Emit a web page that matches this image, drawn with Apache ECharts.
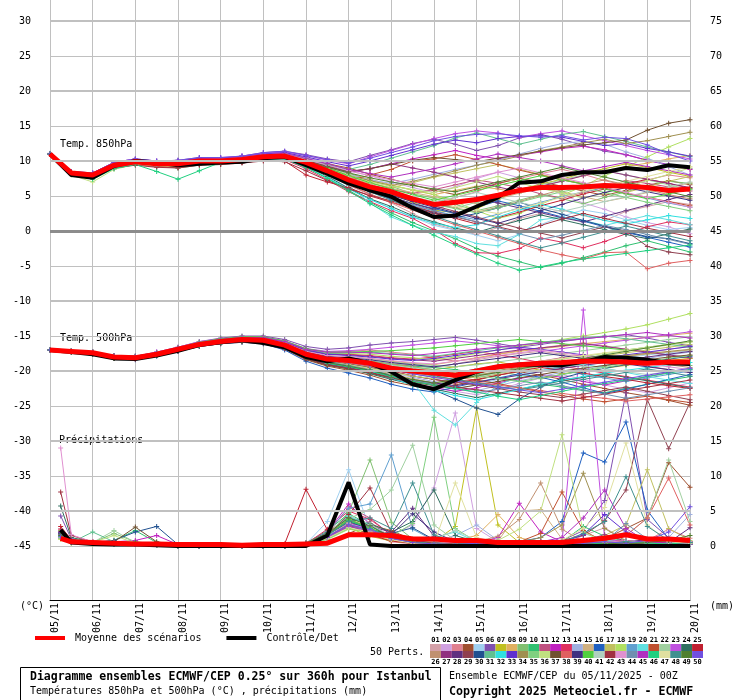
<!DOCTYPE html>
<html>
<head>
<meta charset="utf-8">
<script src="https://cdn.jsdelivr.net/npm/echarts@6/dist/echarts.min.js"></script>
<style>
  html, body { margin: 0; padding: 0; background: #fff; }
  #chart { width: 740px; height: 700px; }
</style>
</head>
<body>
<div id="chart"></div>
<script>
// pas de temps (h) depuis le 05/11 00Z
const hours = [0,12,24,36,48,60,72,84,96,108,120,132,144,156,168,180,192,204,216,228,240,252,264,276,288,300,312,324,336,348,360];
const precipHours = [6,12,24,36,48,60,72,84,96,108,120,132,144,156,168,180,192,204,216,228,240,252,264,276,288,300,312,324,336,348,360];
const dayLabels = ['05/11','06/11','07/11','08/11','09/11','10/11','11/11','12/11','13/11','14/11','15/11','16/11','17/11','18/11','19/11','20/11'];

const t850Mean = [11.0,8.3,8.0,9.4,9.9,9.6,9.6,10.0,10.0,10.2,10.6,10.7,9.8,8.6,7.3,6.3,5.6,4.6,3.8,4.1,4.5,5.1,5.8,6.2,6.2,6.3,6.5,6.4,6.2,5.8,6.0];
const t850Control = [11.0,8.0,7.6,9.3,10.0,9.8,9.4,9.6,9.8,9.9,10.4,10.6,9.4,8.2,6.8,5.8,4.9,3.3,2.0,2.2,3.5,4.8,6.9,7.1,8.0,8.4,8.4,9.0,8.7,9.4,9.1];
const t500Mean = [-17.0,-17.2,-17.4,-18.0,-18.1,-17.6,-16.9,-16.2,-15.8,-15.5,-15.6,-16.3,-17.6,-18.3,-18.5,-18.9,-19.6,-20.0,-20.3,-20.6,-20.0,-19.4,-19.1,-18.9,-18.8,-18.6,-18.6,-18.7,-18.9,-18.7,-18.7];
const t500Control = [-17.0,-17.3,-17.6,-18.2,-18.3,-17.8,-17.1,-16.3,-15.9,-15.6,-16.0,-16.6,-18.0,-18.6,-18.2,-18.9,-20.1,-21.9,-22.6,-21.3,-20.1,-19.4,-19.1,-19.1,-19.2,-18.7,-18.0,-18.1,-18.4,-18.9,-19.0];
const precipMean = [1.1,0.6,0.5,0.4,0.3,0.3,0.2,0.2,0.2,0.1,0.2,0.2,0.3,0.4,1.6,1.6,1.5,1.0,1.0,0.8,0.8,0.5,0.5,0.5,0.5,0.8,1.1,1.6,1.0,1.0,0.8];
const precipControl = [2.3,0.5,0.3,0.2,0.2,0.1,0,0,0,0,0,0,0,1.5,9.1,0.2,0,0,0,0,0,0,0,0,0,0,0,0,0,0,0];

const memberColors = [
  '#d4a0a8','#d0a0e0','#e08090','#a05030','#a0d0f0','#8050b0','#c0c020','#e0b060','#80c070','#30c070',
  '#c05080','#c020c0','#e03060','#a0b0e0','#d0b080','#2060c0','#c0c060','#b0e060','#60a0d0','#60e0e0',
  '#c05030','#a0d0a0','#c050e0','#307060','#c02030',
  '#c09070','#903080','#603080','#904050','#205090','#60c090','#30e0e0','#6030d0','#a09050','#80d080',
  '#c0e080','#705030','#e06060','#403080','#50d040','#b0d0c0','#a03040','#e090d0','#7090b0','#b030c0',
  '#20d080','#e0e0a0','#409090','#508030','#7050e0'
];

const t850Members = [
  [11.0,8.2,7.8,9.2,9.7,9.4,9.2,9.6,9.8,10.0,10.4,10.3, 9.2,8.0,6.5,5.2,4.0,2.5,1.0,0.2,-0.5,0.5,1.8,2.5,3.0,2.2,1.5,2.8,3.5,4.2,3.8],
  [11.1,8.2,8.1,9.6,10.1,9.8,9.9,10.2,10.3,10.6,11.0,11.2, 10.5,9.8,8.6,7.9,7.0,6.2,5.5,6.3,7.5,8.4,7.6,6.5,5.2,4.0,3.1,2.0,1.2,0.6,-0.4],
  [11.0,8.4,7.9,9.5,9.8,9.5,9.7,10.1,10.0,10.1,10.5,10.4, 9.4,8.2,6.9,5.8,5.1,4.4,3.9,4.8,5.6,6.8,7.5,8.2,8.8,8.1,7.2,6.5,7.3,8.0,7.6],
  [11.0,8.3,8.2,9.3,9.9,9.7,9.5,10.0,10.1,10.3,10.8,10.9, 10.2,9.6,9.0,8.1,7.4,6.6,5.8,5.2,6.0,6.8,7.5,7.0,6.4,5.7,5.1,5.8,6.5,7.2,6.6],
  [11.0,8.1,7.7,9.0,9.6,9.5,9.4,9.8,9.9,10.1,10.5,10.6, 9.5,8.0,6.1,4.6,3.2,2.0,0.8,0.1,-0.6,-1.4,-0.5,0.9,2.1,3.0,2.5,1.6,0.8,0.2,0.5],
  [11.0,8.4,8.3,9.8,10.3,10.0,10.1,10.5,10.4,10.7,11.2,11.4, 10.9,10.3,9.9,10.8,11.6,12.5,13.1,12.4,11.5,12.2,13.3,13.8,13.1,12.2,11.4,10.9,10.1,9.5,8.9],
  [11.0,8.2,8.0,9.4,9.8,9.5,9.3,9.7,9.9,10.0,10.3,10.5, 9.6,8.4,7.0,6.1,5.3,4.1,3.0,2.6,3.2,4.5,5.9,6.7,7.4,8.3,8.9,9.6,9.1,8.4,7.8],
  [11.0,8.3,8.1,9.5,10.0,9.7,9.8,10.2,10.2,10.4,10.7,10.8, 10.0,9.1,8.2,7.4,6.6,5.8,5.2,5.8,6.4,6.0,5.5,6.3,7.2,7.9,8.6,9.2,9.7,10.3,10.8],
  [11.0,8.5,8.2,9.7,10.2,9.9,9.9,10.3,10.3,10.5,10.9,11.1, 10.4,9.5,8.3,7.2,6.4,5.3,4.7,3.8,2.9,3.6,4.4,5.2,4.6,3.9,4.8,5.6,6.4,7.1,6.8],
  [11.0,8.2,7.9,9.3,9.7,9.3,9.0,9.4,9.5,9.8,10.2,10.2, 9.1,7.6,5.8,4.1,2.6,1.2,0.0,-1.1,-2.5,-3.6,-4.4,-5.2,-4.6,-3.8,-3.0,-2.1,-1.4,-2.2,-3.0],
  [11.0,8.4,8.1,9.5,9.9,9.6,9.7,10.0,10.1,10.3,10.7,10.6, 9.7,8.5,7.4,6.6,5.9,5.4,5.9,6.6,7.3,6.8,6.2,5.3,4.7,5.5,6.3,7.2,6.8,6.3,5.7],
  [11.0,8.3,8.0,9.4,9.9,9.6,9.6,10.1,10.2,10.4,10.8,10.9, 10.1,9.3,8.5,8.9,9.6,10.3,10.9,11.5,10.8,10.3,10.8,11.3,11.8,12.1,11.6,10.9,10.1,9.4,8.8],
  [11.0,8.1,7.8,9.1,9.6,9.3,9.2,9.6,9.7,9.9,10.3,10.2, 8.9,7.3,5.6,4.2,2.9,1.8,0.2,-1.8,-3.1,-3.2,-2.5,-1.0,-1.6,-2.4,-1.5,-0.4,0.6,1.3,0.9],
  [11.0,8.3,8.1,9.5,10.0,9.7,9.7,10.1,10.1,10.3,10.7,10.9, 10.1,9.2,8.1,7.3,6.8,7.4,8.1,8.8,9.4,10.1,11.0,11.8,12.5,12.8,12.4,11.3,10.4,9.2,8.0],
  [11.0,8.4,8.2,9.6,10.1,9.8,9.8,10.1,10.2,10.4,10.8,10.9, 10.0,8.9,7.8,6.9,6.1,5.5,4.9,4.4,3.9,4.6,5.4,6.1,5.6,4.9,4.2,4.8,5.5,6.2,6.9],
  [11.0,8.2,7.9,9.3,9.8,9.5,9.5,9.9,9.9,10.1,10.5,10.5, 9.5,8.3,7.0,5.9,4.8,3.9,3.2,2.5,3.4,4.3,3.6,2.8,2.0,1.4,0.6,-0.2,-0.9,-1.6,-2.3],
  [11.0,8.3,8.1,9.5,9.9,9.7,9.6,10.0,10.0,10.2,10.6,10.8, 9.9,8.8,7.6,6.8,6.2,6.9,7.7,8.3,8.9,9.5,8.8,8.1,7.4,6.8,6.2,5.5,6.3,7.1,7.8],
  [11.0,8.4,8.0,9.4,10.0,9.6,9.7,10.1,10.1,10.3,10.7,10.8, 10.0,9.0,8.0,7.1,6.5,5.9,5.2,4.2,2.9,1.8,2.5,3.8,5.1,6.4,7.9,9.1,10.6,12.0,13.2],
  [11.0,8.2,7.8,9.2,9.7,9.4,9.4,9.8,9.9,10.1,10.4,10.4, 9.4,8.1,6.8,5.6,4.5,3.6,2.9,2.2,1.6,2.4,3.3,4.1,4.9,5.6,6.2,5.4,4.7,4.0,3.4],
  [11.0,8.3,8.1,9.6,10.0,9.7,9.6,10.0,10.1,10.3,10.6,10.7, 9.6,8.2,6.5,4.0,2.0,0.8,-0.2,-0.8,-1.8,-2.1,-0.5,1.6,2.0,1.5,0.8,1.5,2.2,1.6,0.9],
  [11.0,8.4,8.1,9.5,10.0,9.6,9.6,10.0,10.0,10.2,10.6,10.6, 9.6,8.3,7.2,8.0,8.8,10.0,10.3,10.9,10.2,9.5,8.7,8.0,7.3,6.7,6.1,5.4,4.8,4.2,3.6],
  [11.0,8.3,8.0,9.4,9.9,9.6,9.6,10.0,10.0,10.2,10.6,10.7, 9.8,8.7,7.5,6.4,5.6,4.8,4.0,3.3,4.1,5.0,5.8,6.6,7.3,8.0,8.7,8.0,7.3,6.6,5.9],
  [11.0,8.5,8.3,9.8,10.3,10.0,10.0,10.4,10.5,10.7,11.1,11.3, 10.8,10.1,9.6,10.6,11.5,12.4,13.2,13.9,14.3,14.0,13.4,13.9,14.3,13.6,12.9,12.2,11.5,10.9,10.3],
  [11.0,8.2,8.0,9.4,9.8,9.5,9.5,9.9,9.9,10.1,10.5,10.5, 9.3,7.8,6.1,4.6,3.5,2.2,1.3,0.4,-0.2,0.7,1.5,2.3,1.6,0.9,0.2,-0.5,-1.1,-0.4,0.3],
  [11.0,8.1,7.7,9.0,9.5,9.2,9.1,9.5,9.6,9.8,10.1,10.0, 8.0,7.0,6.2,5.0,4.1,3.3,2.5,1.8,1.0,1.9,2.7,3.6,4.4,5.3,6.0,6.7,7.4,6.8,6.1],
  [11.0,8.3,8.1,9.5,10.0,9.7,9.7,10.1,10.1,10.3,10.7,10.8, 9.9,8.8,7.7,6.6,5.4,4.6,3.9,3.3,2.7,3.4,4.2,5.1,5.9,6.7,7.3,6.6,5.9,5.2,4.6],
  [11.0,8.4,8.2,9.6,10.1,9.8,9.8,10.2,10.2,10.4,10.8,10.9, 10.1,9.2,8.4,8.9,9.6,9.0,8.4,7.7,7.0,6.3,5.6,6.4,7.1,7.9,8.6,8.0,7.4,6.8,6.2],
  [11.0,8.2,8.0,9.4,9.9,9.6,9.5,9.9,10.0,10.2,10.5,10.6, 9.6,8.4,7.2,6.0,4.9,3.9,3.1,3.9,4.7,4.0,3.3,2.6,1.9,1.3,2.1,2.9,3.7,4.5,5.2],
  [11.0,8.3,8.1,9.5,9.9,9.6,9.6,10.0,10.1,10.3,10.6,10.7, 9.7,8.4,7.1,6.0,5.2,4.4,3.6,2.8,2.0,1.2,0.4,-0.3,-1.0,-0.2,0.6,0.0,-2.2,-3.0,-3.4],
  [11.0,8.2,7.9,9.3,9.8,9.5,9.4,9.8,9.9,10.1,10.5,10.5, 9.5,8.2,6.9,5.7,4.6,3.5,2.6,1.9,2.5,3.3,4.1,3.2,2.4,1.5,0.7,-0.1,-0.8,-1.1,-1.8],
  [11.0,8.4,8.2,9.6,10.1,9.8,9.8,10.2,10.3,10.5,10.9,11.0, 10.3,9.5,8.8,9.5,10.4,11.3,12.2,13.3,14.0,13.2,12.4,13.1,13.8,14.2,13.5,12.8,12.0,11.3,10.6],
  [11.0,8.3,8.0,9.3,9.8,9.5,9.4,9.8,9.8,10.0,10.3,10.3, 9.1,7.6,6.0,4.5,3.2,2.0,1.1,0.5,0.9,2.0,3.0,3.8,3.1,2.3,1.5,1.0,1.6,2.2,1.8],
  [11.0,8.4,8.2,9.7,10.2,9.9,10.0,10.4,10.4,10.6,11.0,11.2, 10.6,9.9,9.3,10.0,10.8,11.6,12.4,13.0,12.6,13.2,13.5,13.6,13.4,12.8,12.2,12.5,11.8,11.3,10.7],
  [11.0,8.3,8.1,9.5,10.0,9.7,9.7,10.1,10.1,10.3,10.7,10.8, 9.9,8.9,7.9,7.2,6.5,7.1,7.8,8.6,9.4,10.0,10.7,11.5,12.0,12.6,13.1,12.5,12.9,13.5,14.1],
  [11.0,8.2,7.9,9.3,9.8,9.5,9.5,9.9,10.0,10.2,10.5,10.6, 9.6,8.5,7.3,6.2,5.3,4.5,3.8,3.2,2.6,3.3,4.1,4.9,5.6,6.2,5.5,4.8,4.1,3.5,2.9],
  [11.0,8.0,7.0,8.8,9.5,9.3,9.2,9.6,9.8,10.0,10.4,10.5, 9.9,8.9,7.9,7.0,6.4,5.9,5.5,6.2,7.0,7.8,6.9,6.1,5.4,4.7,5.4,6.3,7.2,8.1,9.0],
  [11.0,8.4,8.1,9.5,10.0,9.7,9.7,10.1,10.2,10.4,10.8,10.9, 10.1,9.3,8.5,8.9,9.5,10.1,10.5,10.2,9.9,10.4,10.9,11.4,11.9,12.3,12.6,13.0,14.4,15.4,15.9],
  [11.0,8.2,7.9,9.3,9.8,9.5,9.4,9.8,9.9,10.0,10.4,10.4, 9.3,8.0,6.6,5.3,4.1,3.0,1.9,0.9,0.0,-0.9,-1.8,-2.7,-3.4,-4.0,-3.1,-3.0,-5.4,-4.6,-4.2],
  [11.0,8.3,8.0,9.4,9.9,9.6,9.6,10.0,10.0,10.2,10.6,10.6, 9.6,8.4,7.1,6.0,5.1,4.2,3.4,2.6,1.8,1.1,2.0,2.9,3.8,4.7,5.5,6.2,5.6,5.0,4.4],
  [11.0,8.4,8.1,9.5,10.0,9.7,9.7,10.1,10.1,10.3,10.7,10.8, 10.0,9.0,7.9,6.9,6.0,5.2,4.4,5.1,5.8,6.5,7.2,7.9,7.3,6.7,6.0,5.3,4.6,5.3,6.0],
  [11.0,8.3,8.0,9.4,9.9,9.6,9.6,10.0,10.0,10.2,10.6,10.7, 9.8,8.7,7.6,6.6,5.7,4.9,4.2,4.8,5.5,4.8,4.1,3.4,2.8,3.5,4.2,4.9,5.6,6.3,7.0],
  [11.0,8.1,7.7,9.0,9.4,9.1,9.0,9.4,9.5,9.7,10.0,9.9, 8.6,7.2,6.0,5.1,4.3,3.5,2.7,2.0,1.3,0.6,-0.1,0.8,1.7,2.5,1.8,1.1,0.4,-0.2,-0.8],
  [11.0,8.4,8.2,9.6,10.1,9.8,9.8,10.2,10.3,10.5,10.9,11.0, 10.2,9.4,8.6,7.9,7.3,6.8,6.3,7.0,7.7,8.4,9.0,8.3,7.6,6.9,6.2,5.5,4.8,4.1,3.4],
  [11.0,8.2,8.0,9.4,9.8,9.5,9.5,9.9,10.0,10.2,10.5,10.5, 9.5,8.2,6.9,5.8,4.8,3.8,2.9,2.1,1.3,0.5,-0.4,-1.2,-0.6,0.1,0.8,0.2,-0.5,-1.2,-1.9],
  [11.0,8.4,8.2,9.7,10.1,9.8,9.9,10.3,10.3,10.5,10.9,11.1, 10.4,9.6,8.8,8.2,7.7,8.3,8.9,9.6,10.3,11.0,10.5,10.0,9.3,8.6,9.2,9.8,9.2,8.6,8.0],
  [11.0,8.2,7.4,8.9,9.5,8.5,7.4,8.6,9.8,10.0,10.3,10.3, 9.1,7.5,5.7,3.9,2.3,0.8,-0.6,-2.0,-3.3,-4.6,-5.6,-5.1,-4.5,-4.0,-3.6,-3.2,-2.8,-2.4,-2.0],
  [11.0,8.3,8.1,9.5,9.9,9.6,9.6,10.0,10.1,10.3,10.6,10.7, 9.8,8.6,7.4,6.4,5.6,4.8,4.1,3.5,3.0,2.5,3.2,4.0,4.8,5.6,6.4,7.1,7.8,8.5,9.2],
  [11.0,8.3,8.0,9.4,9.9,9.6,9.6,10.0,10.0,10.2,10.5,10.6, 9.6,8.3,6.9,5.6,4.4,3.2,2.1,1.1,0.2,-0.7,-1.6,-2.4,-1.7,-0.9,-0.1,0.7,0.0,-0.7,-1.4],
  [11.0,8.4,8.1,9.5,10.0,9.7,9.7,10.1,10.1,10.3,10.7,10.8, 10.0,9.1,8.3,7.6,7.0,6.5,6.0,5.6,6.3,7.0,7.7,8.4,9.1,8.4,7.7,7.0,6.3,5.6,4.9],
  [11.0,8.5,8.3,9.8,10.3,10.0,10.1,10.5,10.5,10.7,11.2,11.4, 10.8,10.2,9.7,10.4,11.2,12.0,12.9,13.5,13.8,13.9,13.6,13.4,13.6,13.0,13.4,13.2,12.3,11.0,10.0]
];

const t500Members = [
  [-17.0,-17.1,-17.3,-17.8,-18.0,-17.5,-16.8,-16.0,-15.6,-15.3,-15.4,-16.0, -17.2,-17.9,-18.0,-18.3,-18.8,-19.2,-19.5,-19.0,-18.4,-17.9,-17.5,-17.2,-17.6,-18.1,-18.5,-18.0,-17.4,-16.9,-16.5],
  [-17.0,-17.3,-17.5,-18.1,-18.3,-17.8,-17.1,-16.4,-16.0,-15.8,-16.0,-16.8, -18.2,-19.0,-19.4,-20.1,-21.0,-21.8,-22.3,-22.9,-23.4,-22.6,-21.8,-21.0,-20.5,-21.2,-22.0,-22.6,-23.1,-22.4,-21.7],
  [-17.0,-17.2,-17.4,-17.9,-18.0,-17.4,-16.7,-16.0,-15.5,-15.2,-15.2,-15.8, -16.9,-17.4,-17.2,-17.0,-17.3,-17.6,-18.1,-18.6,-18.2,-17.6,-17.1,-16.7,-16.3,-16.0,-16.4,-16.9,-17.3,-17.8,-18.2],
  [-17.0,-17.3,-17.6,-18.2,-18.3,-17.8,-17.2,-16.5,-16.1,-15.9,-16.1,-16.9, -18.4,-19.3,-19.9,-20.6,-21.5,-22.1,-22.5,-22.0,-21.3,-20.6,-20.1,-20.6,-21.2,-21.9,-22.5,-23.1,-23.6,-24.2,-24.9],
  [-17.0,-17.1,-17.3,-17.9,-18.0,-17.6,-16.9,-16.2,-15.8,-15.6,-15.7,-16.4, -17.7,-18.5,-18.9,-19.6,-20.5,-21.4,-22.0,-22.6,-22.0,-21.2,-20.5,-19.9,-19.3,-18.9,-18.5,-18.1,-17.7,-17.4,-17.1],
  [-17.0,-17.2,-17.3,-17.8,-17.9,-17.3,-16.6,-15.8,-15.3,-15.0,-15.0,-15.5, -16.5,-16.9,-16.7,-16.3,-16.0,-15.8,-15.5,-15.2,-15.6,-16.1,-16.6,-16.2,-15.8,-15.4,-15.1,-14.8,-15.3,-15.9,-16.4],
  [-17.0,-17.2,-17.5,-18.1,-18.2,-17.7,-17.0,-16.3,-15.9,-15.7,-15.8,-16.6, -17.9,-18.7,-19.0,-19.4,-19.9,-20.1,-19.8,-19.4,-19.0,-18.7,-19.3,-19.9,-20.4,-20.0,-19.6,-19.2,-18.8,-18.5,-18.2],
  [-17.0,-17.2,-17.4,-18.0,-18.1,-17.6,-16.9,-16.2,-15.7,-15.4,-15.5,-16.2, -17.4,-17.9,-18.0,-18.2,-18.6,-18.9,-19.1,-18.6,-18.1,-17.6,-17.2,-16.8,-16.5,-16.1,-15.8,-15.5,-15.2,-14.9,-14.6],
  [-17.0,-17.3,-17.5,-18.1,-18.2,-17.7,-17.0,-16.3,-15.9,-15.6,-15.7,-16.5, -17.9,-18.8,-19.3,-19.9,-20.8,-21.4,-21.9,-21.3,-20.6,-20.1,-20.6,-21.1,-20.5,-19.9,-19.3,-18.8,-18.3,-18.7,-19.2],
  [-17.0,-17.1,-17.3,-17.9,-18.0,-17.5,-16.8,-16.1,-15.7,-15.4,-15.5,-16.2, -17.5,-18.1,-18.3,-18.6,-19.0,-19.3,-19.5,-19.8,-20.3,-20.9,-21.4,-21.9,-22.3,-22.8,-23.1,-22.5,-21.9,-21.3,-20.8],
  [-17.0,-17.2,-17.4,-18.0,-18.1,-17.6,-16.9,-16.2,-15.8,-15.5,-15.6,-16.3, -17.6,-18.2,-18.4,-18.7,-19.2,-19.7,-20.1,-20.5,-20.1,-19.6,-19.1,-18.6,-18.1,-17.7,-18.2,-18.8,-19.3,-19.8,-20.2],
  [-17.0,-17.3,-17.5,-18.1,-18.2,-17.7,-17.0,-16.3,-15.9,-15.7,-15.9,-16.7, -18.1,-18.9,-19.5,-20.2,-21.1,-21.8,-22.4,-22.9,-22.4,-21.7,-21.1,-20.5,-20.9,-21.5,-22.0,-21.4,-20.8,-20.2,-19.7],
  [-17.0,-17.1,-17.3,-17.8,-17.9,-17.4,-16.7,-16.0,-15.5,-15.2,-15.3,-15.9, -17.0,-17.5,-17.6,-17.8,-18.1,-18.3,-18.0,-17.6,-17.2,-17.7,-18.2,-18.8,-19.3,-19.8,-20.3,-20.8,-21.3,-21.8,-22.3],
  [-17.0,-17.2,-17.4,-17.9,-18.1,-17.6,-16.9,-16.2,-15.8,-15.5,-15.6,-16.3, -17.7,-18.5,-18.9,-19.4,-20.2,-20.9,-21.5,-22.2,-22.8,-22.1,-21.4,-20.8,-20.2,-19.7,-19.2,-18.7,-18.2,-17.7,-17.3],
  [-17.0,-17.2,-17.5,-18.0,-18.2,-17.7,-17.0,-16.3,-15.9,-15.6,-15.7,-16.4, -17.8,-18.6,-19.1,-19.7,-20.4,-21.1,-21.7,-21.2,-20.7,-20.2,-19.8,-19.4,-19.0,-18.6,-18.2,-17.9,-17.6,-17.3,-17.0],
  [-17.0,-17.3,-17.6,-18.2,-18.4,-17.9,-17.2,-16.5,-16.1,-15.9,-16.1,-17.0, -18.6,-19.6,-20.3,-21.0,-21.9,-22.6,-23.0,-22.3,-21.6,-21.0,-20.4,-20.9,-21.6,-22.4,-23.2,-22.6,-21.9,-21.2,-20.5],
  [-17.0,-17.2,-17.4,-18.0,-18.1,-17.6,-16.9,-16.2,-15.7,-15.5,-15.5,-16.2, -17.5,-18.2,-18.5,-18.8,-19.3,-19.8,-20.2,-20.6,-21.0,-20.4,-19.8,-19.3,-18.8,-18.3,-17.8,-17.4,-17.0,-16.6,-16.2],
  [-17.0,-17.1,-17.3,-17.8,-17.9,-17.4,-16.7,-15.9,-15.5,-15.2,-15.2,-15.8, -16.9,-17.4,-17.5,-17.6,-17.9,-18.1,-18.4,-18.0,-17.5,-17.0,-16.5,-16.0,-15.5,-15.0,-14.5,-14.0,-13.4,-12.6,-11.8],
  [-17.0,-17.2,-17.4,-18.0,-18.1,-17.6,-16.9,-16.2,-15.8,-15.5,-15.6,-16.3, -17.6,-18.3,-18.6,-19.1,-19.8,-20.4,-20.9,-20.3,-19.7,-19.2,-18.8,-19.3,-19.9,-20.5,-21.0,-21.5,-21.0,-20.5,-20.0],
  [-17.0,-17.2,-17.5,-18.1,-18.2,-17.7,-17.0,-16.3,-15.9,-15.6,-15.8,-16.6, -18.0,-18.9,-19.5,-20.4,-21.0,-21.5,-25.6,-27.7,-24.5,-22.0,-20.8,-20.0,-19.4,-19.0,-19.6,-20.2,-20.8,-21.3,-21.8],
  [-17.0,-17.1,-17.3,-17.9,-18.0,-17.5,-16.8,-16.1,-15.7,-15.4,-15.5,-16.2, -17.5,-18.2,-18.5,-19.0,-19.6,-20.1,-20.5,-20.9,-21.3,-21.8,-22.4,-23.0,-23.5,-24.0,-24.4,-24.0,-23.6,-24.1,-24.5],
  [-17.0,-17.2,-17.4,-18.0,-18.1,-17.6,-16.9,-16.1,-15.7,-15.4,-15.4,-16.0, -17.2,-17.8,-18.0,-18.3,-18.7,-19.0,-19.2,-19.4,-19.1,-18.7,-18.3,-17.9,-17.5,-17.1,-16.7,-16.3,-15.9,-15.5,-15.1],
  [-17.0,-17.2,-17.3,-17.8,-17.9,-17.3,-16.6,-15.8,-15.4,-15.1,-15.1,-15.7, -16.8,-17.2,-17.1,-16.9,-16.6,-16.3,-16.0,-15.7,-16.0,-16.4,-16.8,-17.2,-16.8,-16.4,-16.0,-15.6,-15.2,-14.8,-14.4],
  [-17.0,-17.3,-17.5,-18.1,-18.2,-17.7,-17.0,-16.4,-16.0,-15.7,-15.9,-16.7, -18.2,-19.1,-19.7,-20.4,-21.2,-21.9,-22.6,-23.2,-23.8,-23.2,-22.6,-22.0,-21.4,-20.9,-20.4,-20.9,-21.4,-21.9,-22.4],
  [-17.0,-17.1,-17.4,-17.9,-18.0,-17.5,-16.8,-16.1,-15.7,-15.4,-15.5,-16.2, -17.5,-18.3,-18.7,-19.3,-20.0,-20.7,-21.2,-21.7,-21.2,-20.6,-20.0,-19.5,-19.9,-20.3,-20.8,-21.2,-21.7,-22.1,-22.5],
  [-17.0,-17.2,-17.4,-18.0,-18.1,-17.6,-16.9,-16.2,-15.8,-15.5,-15.6,-16.3, -17.6,-18.2,-18.4,-18.6,-19.0,-19.4,-19.8,-20.2,-20.6,-20.1,-19.6,-19.1,-18.7,-18.3,-17.9,-18.3,-18.7,-19.1,-19.5],
  [-17.0,-17.2,-17.4,-17.9,-18.0,-17.5,-16.8,-16.0,-15.6,-15.3,-15.3,-15.9, -17.1,-17.6,-17.7,-17.9,-18.2,-18.4,-18.6,-18.2,-17.8,-17.4,-17.0,-16.7,-16.4,-16.1,-16.5,-16.9,-17.3,-17.7,-18.1],
  [-17.0,-17.3,-17.5,-18.1,-18.2,-17.7,-17.1,-16.4,-16.0,-15.7,-15.9,-16.7, -18.1,-19.0,-19.5,-20.1,-20.8,-21.3,-21.7,-22.1,-21.6,-21.1,-20.6,-20.1,-19.6,-19.2,-18.8,-18.4,-18.0,-17.6,-17.2],
  [-17.0,-17.2,-17.4,-17.9,-18.1,-17.6,-16.9,-16.2,-15.8,-15.6,-15.7,-16.5, -17.9,-18.6,-19.0,-19.5,-20.1,-20.7,-21.2,-21.6,-22.0,-22.5,-23.0,-23.4,-23.8,-23.3,-22.8,-22.3,-22.9,-23.5,-24.1],
  [-17.0,-17.2,-17.5,-18.1,-18.2,-17.7,-17.0,-16.3,-15.9,-15.7,-15.8,-16.6, -18.0,-18.8,-19.3,-19.9,-20.7,-21.6,-22.7,-24.0,-25.3,-26.2,-24.0,-22.3,-21.0,-20.2,-19.6,-19.1,-18.7,-18.3,-17.9],
  [-17.0,-17.1,-17.3,-17.8,-17.9,-17.4,-16.7,-15.9,-15.5,-15.2,-15.2,-15.8, -17.0,-17.5,-17.4,-17.3,-17.5,-17.7,-17.9,-17.5,-17.1,-16.7,-16.3,-15.9,-15.6,-15.3,-15.0,-15.4,-15.8,-16.2,-16.6],
  [-17.0,-17.2,-17.4,-18.0,-18.1,-17.6,-16.9,-16.2,-15.8,-15.5,-15.7,-16.4, -17.8,-18.6,-19.2,-20.0,-21.0,-22.0,-22.8,-23.5,-24.1,-23.4,-22.6,-21.9,-21.3,-20.8,-20.3,-19.9,-19.5,-19.1,-18.8],
  [-17.0,-17.2,-17.3,-17.9,-18.0,-17.5,-16.8,-16.0,-15.6,-15.3,-15.3,-15.9, -17.0,-17.6,-17.8,-18.0,-18.3,-18.5,-18.2,-17.8,-17.4,-17.0,-16.6,-16.9,-17.3,-17.7,-18.1,-17.7,-17.3,-16.9,-16.5],
  [-17.0,-17.2,-17.4,-18.0,-18.1,-17.6,-16.9,-16.2,-15.8,-15.5,-15.6,-16.3, -17.6,-18.3,-18.6,-19.0,-19.5,-19.9,-20.3,-20.7,-20.3,-19.9,-19.5,-19.1,-18.7,-18.4,-18.1,-17.8,-17.5,-17.2,-16.9],
  [-17.0,-17.1,-17.3,-17.9,-18.0,-17.5,-16.8,-16.1,-15.7,-15.4,-15.5,-16.2, -17.5,-18.1,-18.3,-18.6,-19.1,-19.5,-19.8,-20.2,-20.7,-21.1,-21.5,-21.0,-20.5,-20.0,-19.5,-19.0,-18.6,-18.2,-17.8],
  [-17.0,-17.2,-17.5,-18.1,-18.2,-17.7,-17.0,-16.3,-15.9,-15.6,-15.7,-16.5, -17.9,-18.7,-19.1,-19.6,-20.2,-20.7,-21.1,-20.6,-20.1,-19.6,-19.1,-18.7,-18.3,-17.9,-17.5,-17.1,-16.7,-16.3,-15.9],
  [-17.0,-17.3,-17.6,-18.2,-18.3,-17.8,-17.1,-16.4,-16.0,-15.8,-16.0,-16.8, -18.3,-19.2,-19.7,-20.3,-21.0,-21.6,-22.1,-22.5,-22.0,-21.5,-21.0,-20.5,-20.0,-19.6,-19.2,-18.8,-18.4,-18.0,-17.7],
  [-17.0,-17.2,-17.4,-17.9,-18.1,-17.6,-16.9,-16.2,-15.8,-15.5,-15.6,-16.3, -17.7,-18.4,-18.8,-19.3,-19.9,-20.4,-20.8,-21.2,-21.6,-22.0,-22.4,-22.8,-23.2,-23.6,-23.9,-24.3,-24.0,-23.7,-23.4],
  [-17.0,-17.2,-17.4,-18.0,-18.1,-17.6,-16.9,-16.2,-15.7,-15.4,-15.5,-16.1, -17.3,-17.9,-18.1,-18.4,-18.8,-19.1,-19.4,-19.0,-18.6,-18.2,-17.8,-17.4,-17.8,-18.2,-18.6,-19.0,-19.4,-19.8,-20.2],
  [-17.0,-17.1,-17.3,-17.8,-17.9,-17.4,-16.7,-15.9,-15.4,-15.1,-15.1,-15.7, -16.8,-17.3,-17.3,-17.2,-17.1,-16.9,-16.7,-16.4,-16.1,-15.8,-15.5,-15.8,-16.1,-16.4,-16.7,-17.0,-16.6,-16.2,-15.8],
  [-17.0,-17.2,-17.4,-18.0,-18.1,-17.6,-16.9,-16.2,-15.8,-15.5,-15.6,-16.3, -17.6,-18.3,-18.5,-18.8,-19.2,-19.6,-20.0,-20.4,-20.8,-20.3,-19.8,-19.3,-18.9,-19.3,-19.7,-20.1,-20.5,-20.1,-19.7],
  [-17.0,-17.3,-17.5,-18.1,-18.3,-17.8,-17.1,-16.4,-16.0,-15.7,-15.9,-16.8, -18.2,-19.1,-19.6,-20.2,-20.9,-21.5,-21.9,-22.3,-22.7,-23.1,-23.5,-23.9,-24.3,-23.8,-23.3,-22.8,-22.3,-21.8,-21.3],
  [-17.0,-17.2,-17.4,-17.9,-18.0,-17.5,-16.8,-16.1,-15.6,-15.3,-15.4,-16.0, -17.2,-17.8,-18.0,-18.2,-18.5,-18.8,-19.0,-18.6,-18.2,-17.8,-17.4,-17.0,-17.4,-17.8,-18.2,-18.6,-19.0,-19.4,-19.8],
  [-17.0,-17.2,-17.4,-18.0,-18.2,-17.7,-17.0,-16.3,-15.9,-15.6,-15.7,-16.5, -17.9,-18.7,-19.2,-19.8,-20.6,-21.3,-21.9,-22.5,-23.1,-22.6,-22.1,-21.6,-22.1,-22.7,-23.3,-23.9,-23.4,-22.9,-22.4],
  [-17.0,-17.1,-17.3,-17.8,-17.9,-17.4,-16.7,-16.0,-15.5,-15.2,-15.2,-15.8, -16.9,-17.3,-17.3,-17.4,-17.6,-17.8,-17.5,-17.2,-16.9,-16.6,-16.3,-16.0,-15.7,-15.4,-15.1,-14.8,-14.5,-14.9,-15.3],
  [-17.0,-17.2,-17.5,-18.1,-18.2,-17.7,-17.0,-16.3,-15.9,-15.7,-15.8,-16.6, -18.0,-18.9,-19.4,-20.0,-20.8,-21.5,-22.0,-22.5,-23.0,-23.6,-24.1,-23.5,-22.9,-22.3,-21.8,-21.3,-20.8,-20.3,-19.8],
  [-17.0,-17.2,-17.4,-18.0,-18.1,-17.6,-16.9,-16.2,-15.8,-15.5,-15.6,-16.3, -17.6,-18.3,-18.7,-19.2,-19.8,-20.3,-20.8,-20.3,-19.8,-19.4,-19.0,-18.6,-18.2,-17.8,-17.4,-17.0,-16.6,-16.2,-15.8],
  [-17.0,-17.2,-17.4,-17.9,-18.0,-17.5,-16.8,-16.1,-15.7,-15.4,-15.5,-16.2, -17.5,-18.2,-18.6,-19.1,-19.7,-20.2,-20.7,-21.2,-21.7,-22.2,-22.7,-22.2,-21.7,-21.2,-20.7,-20.2,-19.7,-20.2,-20.7],
  [-17.0,-17.3,-17.5,-18.1,-18.2,-17.7,-17.0,-16.3,-15.9,-15.6,-15.8,-16.6, -18.0,-18.8,-19.3,-19.9,-20.6,-21.2,-21.7,-21.2,-20.7,-20.2,-19.7,-19.2,-18.7,-18.2,-17.7,-17.2,-16.7,-16.2,-15.7],
  [-17.0,-17.2,-17.4,-18.0,-18.1,-17.6,-16.9,-16.2,-15.8,-15.5,-15.6,-16.3, -17.6,-18.3,-18.7,-19.2,-19.8,-20.4,-20.9,-21.4,-21.9,-22.3,-22.7,-23.1,-22.6,-22.1,-21.6,-21.1,-20.6,-20.1,-19.6]
];

const precipMembers = [
  [2.5,0.8,0.4,0.2,0.3,0.1,0,0,0,0,0,0, 0.3,1.2,2.8,3.5,1.0,0.4,0.2,0.5,0.3,0, 0.4,0.8,0.2,1.5,2.6,0.8,0.3,1.2,0.5],
  [1.8,0.6,0.5,0.3,0.4,0.2,0,0,0,0,0,0, 0.2,0.8,1.5,2.2,1.6,3.0,8.3,19.0,2.5,0.6, 0.3,0.5,0.2,0.8,0.4,1.6,0.7,0.3,0.6],
  [1.2,0.5,0.6,0.4,0.2,0.3,0.1,0,0,0,0,0, 0.5,2.0,4.2,1.8,0.6,0.3,0.2,0.1,0,0.3, 0.6,0.2,0.4,1.0,0.5,0.2,0.8,2.4,1.1],
  [2.0,0.7,0.3,0.5,0.6,0.2,0,0,0,0,0,0, 0.1,0.6,1.8,3.0,2.2,0.9,0.4,0.2,0.5,0.3, 0.1,0.2,0.6,0.3,1.0,2.5,4.0,11.9,8.4],
  [1.5,0.6,0.4,0.3,0.2,0.1,0,0,0,0,0,0, 0.3,3.5,10.9,2.4,0.8,0.5,0.3,0.2,0.6,0.4, 0.2,0.1,0.3,0.7,0.4,0.2,0.5,0.3,0.2],
  [4.3,1.0,0.5,0.4,0.3,0.2,0,0,0,0,0,0, 0.4,1.6,3.2,2.5,1.2,0.6,0.3,0.5,0.2,0.1, 0.4,0.3,0.8,2.2,6.5,21.9,3.8,1.2,0.6],
  [1.0,0.4,0.3,0.6,0.2,0.1,0,0,0,0,0,0, 0.2,1.0,2.6,1.4,0.7,0.4,0.6,2.8,19.7,3.0, 0.5,0.3,0.2,0.6,0.4,0.2,0.3,0.8,0.4],
  [1.6,0.5,0.4,0.3,0.5,0.2,0.1,0,0,0,0,0, 0.3,1.4,3.6,2.0,0.9,0.5,0.3,0.8,1.5,4.5, 1.2,0.4,0.2,0.5,1.2,0.6,0.3,0.2,0.5],
  [2.2,0.7,0.5,1.8,0.6,0.3,0.1,0,0,0,0,0, 0.2,1.5,4.8,12.3,3.4,1.0,0.5,0.3,0.2,0.4, 0.3,0.6,0.3,0.2,0.5,0.8,0.4,0.2,0.3],
  [1.4,0.6,0.4,0.8,2.2,0.5,0.1,0,0,0,0,0, 0.4,2.2,4.6,3.0,1.1,0.6,0.3,0.2,0.5,0.8, 0.4,0.2,0.6,2.8,1.4,0.6,0.3,0.8,0.5],
  [1.9,0.7,0.5,0.4,0.3,0.2,0,0,0,0,0,0, 0.3,1.8,5.6,4.0,1.5,0.6,0.4,0.2,0.3,0.6, 0.3,0.2,0.5,0.3,0.8,1.6,0.6,0.4,0.3],
  [1.3,0.5,0.4,0.6,0.8,1.5,0.2,0,0,0,0,0, 0.4,2.0,6.0,3.1,1.2,0.5,0.3,0.6,0.4,1.2, 6.1,2.0,0.6,0.3,0.5,0.4,0.2,0.6,0.3],
  [2.4,0.8,0.6,0.4,0.3,0.2,0.1,0,0,0,0,0, 0.3,2.4,5.0,3.8,1.6,0.7,0.4,0.3,0.2,0.5, 0.3,0.2,0.4,0.6,0.3,0.5,0.8,0.4,0.6],
  [1.1,0.4,0.3,0.2,0.4,0.2,0,0,0,0,0,0, 0.2,1.1,3.0,2.4,1.0,0.4,0.6,1.5,3.0,0.8, 0.4,0.3,0.6,1.8,0.9,0.4,0.3,1.2,4.5],
  [1.7,0.6,0.4,0.3,0.2,0.1,0,0,0,0,0,0, 0.4,1.6,3.8,2.7,1.2,0.5,0.3,0.2,0.4,0.7, 5.0,5.2,1.0,0.4,0.2,0.5,0.3,0.2,0.4],
  [1.2,0.5,0.4,0.3,0.5,0.3,0.1,0,0,0,0,0, 0.3,1.3,3.3,2.6,1.4,0.8,0.4,0.3,0.2,0.4, 0.6,1.2,3.5,13.3,12.0,17.7,5.1,1.0,0.6],
  [1.5,0.6,0.5,0.4,0.3,0.2,0,0,0,0,0,0, 0.2,1.2,2.9,2.2,1.1,0.5,0.3,0.6,0.4,0.2, 0.5,0.8,0.4,0.6,1.5,3.0,10.9,2.5,0.8],
  [1.0,0.4,0.3,0.2,0.3,0.1,0,0,0,0,0,0, 0.2,0.9,2.4,1.9,0.8,0.4,0.3,0.2,0.5,0.3, 0.2,0.6,0.4,0.3,0.8,0.5,0.3,0.6,0.4],
  [1.8,0.6,0.4,0.3,0.4,0.2,0,0,0,0,0,0, 0.3,2.0,5.4,6.0,13.0,2.4,0.8,0.4,0.3,0.5, 0.3,0.2,0.6,0.4,0.3,0.7,0.5,0.3,0.2],
  [1.3,0.5,0.4,0.3,0.2,0.1,0,0,0,0,0,0, 0.4,1.7,4.4,2.8,1.0,0.5,1.2,2.0,0.6,0.3, 0.2,0.4,0.3,0.5,0.8,0.4,0.3,0.2,0.4],
  [2.1,0.7,0.5,0.4,0.3,0.2,0,0,0,0,0,0, 0.3,1.5,3.5,2.3,1.0,0.5,0.3,0.2,0.4,0.3, 0.6,1.8,7.7,2.2,0.6,0.4,0.8,0.5,0.3],
  [1.6,0.6,0.5,2.2,0.5,0.2,0.1,0,0,0,0,0, 0.2,1.4,3.9,5.2,8.0,14.4,3.0,0.8,0.4,0.3, 0.5,0.2,0.4,0.6,0.3,1.5,4.0,12.3,3.5],
  [1.4,0.5,0.4,0.3,0.4,0.2,0,0,0,0,0,0, 0.3,1.3,3.1,2.5,1.2,0.5,0.3,0.2,0.4,0.6, 0.3,0.5,0.5,33.7,1.0,0.6,0.4,0.8,0.5],
  [5.7,1.2,0.6,0.4,0.3,0.2,0.1,0,0,0,0,0, 0.4,1.9,4.0,3.2,2.0,3.5,8.0,1.5,0.6,0.3, 0.2,0.5,0.3,0.6,0.4,0.3,0.5,0.8,0.4],
  [2.8,0.9,0.6,0.5,0.4,0.3,0.1,0,0,0,0,0.3, 8.1,2.3,3.0,1.6,0.7,0.4,0.3,0.2,0.5,0.3, 0.2,0.4,0.6,0.3,0.5,0.8,0.4,0.3,0.5],
  [1.2,0.5,0.4,0.3,0.2,0.1,0,0,0,0,0,0, 0.3,1.6,3.7,2.6,1.1,0.5,0.3,0.2,0.6,1.4, 3.8,9.0,2.4,0.6,0.3,0.4,0.2,0.5,0.3],
  [1.7,0.6,0.5,0.4,0.3,0.2,0,0,0,0,0,0, 0.2,1.2,3.2,2.9,1.3,0.6,0.4,0.3,0.2,0.5, 0.3,0.6,0.4,0.8,1.6,0.7,0.4,0.3,0.6],
  [1.9,0.7,0.4,0.3,0.4,0.2,0,0,0,0,0,0, 0.3,1.5,3.4,2.8,2.0,5.4,1.4,0.6,0.3,0.2, 0.4,0.3,0.5,0.4,0.3,0.6,0.9,0.5,2.6],
  [1.5,0.6,0.5,0.4,0.3,0.2,0,0,0,0,0,0, 0.4,1.8,4.1,3.0,1.3,0.6,0.4,0.3,0.5,0.3, 0.2,0.6,0.8,1.5,3.6,8.0,20.9,13.9,20.5],
  [1.6,0.6,0.5,0.8,2.0,2.8,0.2,0,0,0,0,0, 0.3,1.4,3.0,2.2,1.8,2.6,0.9,0.4,0.3,0.5, 0.3,0.2,0.4,0.6,0.3,0.5,0.4,0.3,0.5],
  [1.3,0.5,2.0,0.6,0.3,0.2,0.1,0,0,0,0,0, 0.2,1.1,2.7,2.3,1.0,0.5,0.3,0.2,0.4,0.3, 0.5,0.2,0.3,0.6,0.4,0.3,0.5,0.4,0.3],
  [1.4,0.6,0.4,0.3,0.5,0.2,0,0,0,0,0,0, 0.3,1.7,4.2,3.0,1.2,0.6,0.3,0.4,0.2,0.3, 0.5,0.4,0.3,0.5,0.7,0.4,0.3,0.6,0.4],
  [2.0,0.7,0.5,0.4,0.3,0.2,0,0,0,0,0,0, 0.2,1.3,3.3,2.4,1.2,0.6,0.4,0.3,0.5,0.4, 0.6,0.3,0.5,1.6,4.5,2.0,0.8,0.5,0.4],
  [1.5,0.6,0.4,0.3,0.4,0.2,0,0,0,0,0,0, 0.3,1.6,3.8,2.6,1.1,0.5,0.3,0.2,0.4,0.3, 0.5,1.2,3.0,10.4,2.5,0.7,0.4,0.3,0.5],
  [1.1,0.5,0.4,0.3,0.2,0.1,0,0,0,0,0,0, 0.2,1.0,2.5,2.0,1.4,3.2,18.4,2.5,0.6,0.3, 0.2,0.4,0.3,0.5,0.3,0.6,0.4,0.3,0.5],
  [1.6,0.6,0.5,1.5,0.4,0.2,0,0,0,0,0,0, 0.3,1.4,3.4,2.7,1.2,0.6,0.4,0.3,0.5,0.8, 2.4,5.0,15.9,2.0,0.6,0.4,0.3,0.5,0.4],
  [1.8,0.6,0.5,0.6,2.7,0.6,0.1,0,0,0,0,0, 0.3,1.5,3.6,2.5,1.1,0.5,0.3,0.2,0.4,0.3, 0.5,0.3,0.4,0.6,0.3,0.5,0.3,0.4,0.6],
  [1.4,0.5,0.4,0.3,0.2,0.1,0,0,0,0,0,0, 0.2,1.2,3.0,2.3,1.0,0.5,0.3,0.2,0.4,0.3, 0.2,0.5,0.3,0.6,0.8,1.5,4.0,9.7,3.0],
  [1.7,0.6,0.4,0.3,0.4,0.2,0,0,0,0,0,0, 0.3,1.4,3.5,2.4,1.6,4.6,2.0,0.6,0.3,0.2, 0.4,0.3,0.5,0.4,0.3,0.6,0.4,0.5,0.3],
  [1.2,0.5,0.4,0.3,0.2,0.1,0,0,0,0,0,0, 0.3,1.6,3.8,2.6,1.0,0.4,0.3,0.2,0.5,0.3, 0.6,0.4,0.2,0.5,0.3,0.4,0.6,0.3,0.4],
  [1.5,0.6,0.5,0.4,0.3,0.2,0,0,0,0,0,0, 0.4,1.8,4.3,3.1,1.4,0.6,1.0,2.2,0.8,0.3, 0.2,0.5,0.3,0.6,0.4,0.3,0.5,0.4,0.6],
  [7.7,1.5,0.6,0.4,0.3,0.2,0.1,0,0,0,0,0, 0.2,1.4,4.5,8.3,2.0,0.7,0.4,0.3,0.5,0.3, 0.2,0.4,0.6,0.3,0.5,0.4,0.3,0.6,0.5],
  [14.0,1.6,0.6,0.4,0.3,0.2,0.1,0,0,0,0,0, 0.3,1.5,3.2,2.4,1.1,0.5,0.3,0.6,0.4,0.3, 0.5,0.3,0.4,0.6,0.5,0.8,0.4,0.3,0.6],
  [1.3,0.5,0.4,0.3,0.4,0.2,0,0,0,0,0,0, 0.3,1.3,3.1,2.2,1.0,0.5,0.3,0.2,0.4,0.3, 0.2,0.5,0.3,0.4,0.6,3.2,1.0,0.5,0.3],
  [1.6,0.6,0.5,0.4,0.3,0.2,0,0,0,0,0,0, 0.2,1.2,2.8,2.1,1.0,0.4,0.3,0.2,0.5,0.4, 0.3,0.6,1.2,4.0,8.0,2.5,0.6,0.4,0.3],
  [1.4,0.6,0.4,0.3,0.2,0.1,0,0,0,0,0,0, 0.3,1.5,3.6,2.5,1.2,0.6,0.3,0.2,0.4,0.3, 0.5,0.3,0.4,0.5,0.3,0.6,0.4,0.3,0.5],
  [1.2,0.5,0.4,0.3,0.2,0.1,0,0,0,0,0,0, 0.2,1.1,2.6,2.0,0.9,0.4,0.3,9.0,1.2,0.4, 0.3,0.5,0.8,2.5,5.5,14.7,3.0,0.6,0.4],
  [1.7,0.6,0.5,0.4,0.3,0.2,0,0,0,0,0,0, 0.3,1.6,3.5,4.0,2.5,9.0,1.6,0.5,0.3,0.2, 0.4,0.3,0.5,1.8,3.5,9.9,2.8,0.8,0.5],
  [1.5,0.6,0.4,0.3,0.5,0.2,0,0,0,0,0,0, 0.4,1.8,4.0,2.9,1.2,0.5,0.3,0.2,0.4,0.3, 0.5,0.4,0.3,0.6,0.4,0.3,0.5,0.8,1.5],
  [1.3,0.5,0.4,0.3,0.2,0.1,0,0,0,0,0,0, 0.3,1.3,3.0,2.4,1.1,0.5,0.3,0.2,0.4,0.3, 0.2,0.5,0.3,0.4,0.6,0.4,0.8,2.0,5.6]
];

const mono = '"DejaVu Sans Mono", monospace';
const plus = 'path://M2,0h1v5h-1zM0,2h5v1h-5z';

function pairs (xs, ys) {
  return xs.map((x, k) => [x, ys[k]]);
}

function memberSeries (xs, ys, color, yAxisIndex) {
  return {
    type: 'line',
    xAxisIndex: 1,
    yAxisIndex: yAxisIndex,
    data: pairs(xs, ys),
    symbol: plus,
    symbolSize: 5,
    showSymbol: true,
    itemStyle: { color: color },
    lineStyle: { color: color, width: 1 },
    silent: true,
    z: 2
  };
}

const series = [];
// lignes epaisses du quadrillage (tous les 10 degres)
series.push({
  type: 'line',
  xAxisIndex: 1,
  yAxisIndex: 1,
  data: [],
  silent: true,
  z: 1,
  markLine: {
    silent: true,
    symbol: 'none',
    label: { show: false },
    animation: false,
    data: [30, 20, 10, 0, -10, -20, -30, -40].map(v => ({
      yAxis: v,
      lineStyle: { type: 'solid', color: v === 0 ? '#8c8c8c' : '#c0c0c0', width: v === 0 ? 3 : 2 }
    }))
  }
});

for (let i = 0; i < memberColors.length; i++) {
  series.push(memberSeries(hours, t850Members[i], memberColors[i], 1));
  series.push(memberSeries(hours, t500Members[i], memberColors[i], 1));
  series.push(memberSeries(precipHours, precipMembers[i], memberColors[i], 2));
}

function thickLine (name, xs, ys, color, width, yAxisIndex, z) {
  return {
    name: name,
    type: 'line',
    xAxisIndex: 1,
    yAxisIndex: yAxisIndex,
    data: pairs(xs, ys),
    symbol: 'none',
    itemStyle: { color: color },
    lineStyle: { color: color, width: width },
    silent: true,
    z: z
  };
}

series.push(thickLine('Contrôle/Det', hours, t850Control, '#000000', 4, 1, 3));
series.push(thickLine('Contrôle/Det', hours, t500Control, '#000000', 4, 1, 3));
series.push(thickLine('Contrôle/Det', precipHours, precipControl, '#000000', 4, 2, 3));
series.push(thickLine('Moyenne des scénarios', hours, t850Mean, '#ff0000', 5, 1, 4));
series.push(thickLine('Moyenne des scénarios', hours, t500Mean, '#ff0000', 5, 1, 4));
series.push(thickLine('Moyenne des scénarios', precipHours, precipMean, '#ff0000', 5, 2, 4));

// petits carres de couleur des 50 perturbations
const graphics = [];
const cellW = 10.92;
memberColors.forEach((c, i) => {
  const col = i % 25;
  const row = Math.floor(i / 25);
  graphics.push({
    type: 'rect',
    shape: { x: 430 + col * cellW, y: 644 + row * 7, width: cellW, height: 7 },
    style: { fill: c },
    silent: true
  });
  graphics.push({
    type: 'text',
    style: {
      x: 430 + col * cellW + cellW / 2,
      y: row === 0 ? 640 : 662,
      text: String(i + 1).padStart(2, '0'),
      font: 'bold 7px ' + mono,
      fill: '#000',
      align: 'center',
      verticalAlign: 'middle'
    },
    silent: true
  });
});

function label (x, y, text, font, align) {
  return {
    type: 'text',
    style: { x: x, y: y, text: text, font: font, fill: '#000', align: align || 'left', verticalAlign: 'middle' },
    silent: true
  };
}

graphics.push(label(60, 144, 'Temp. 850hPa', '10px ' + mono));
graphics.push(label(60, 338, 'Temp. 500hPa', '10px ' + mono));
graphics.push(label(59, 440, 'Précipitations', '10px ' + mono));
graphics.push(label(20, 606, '(°C)', '10px ' + mono));
graphics.push(label(710, 606, '(mm)', '10px ' + mono));
graphics.push(label(370, 652, '50 Perts.', '10px ' + mono));
graphics.push({
  type: 'rect',
  shape: { x: 20.5, y: 667.5, width: 420, height: 40 },
  style: { fill: 'none', stroke: '#000', lineWidth: 1 },
  silent: true
});
graphics.push(label(30, 677, 'Diagramme ensembles ECMWF/CEP 0.25° sur 360h pour Istanbul', 'bold 11.5px ' + mono));
graphics.push(label(30, 691, 'Températures 850hPa et 500hPa (°C) , précipitations (mm)', '10px ' + mono));
graphics.push(label(449, 676, 'Ensemble ECMWF/CEP du 05/11/2025 - 00Z', '10px ' + mono));
graphics.push(label(449, 692, 'Copyright 2025 Meteociel.fr - ECMWF', 'bold 11.6px ' + mono));

const chart = echarts.init(document.getElementById('chart'));
chart.setOption({
  animation: false,
  backgroundColor: '#ffffff',
  textStyle: { fontFamily: mono },
  grid: [
    { left: 50, right: 50, top: 0, bottom: 100 },
    { left: 50, right: 50, top: 21, bottom: 154 }
  ],
  legend: {
    data: ['Moyenne des scénarios', 'Contrôle/Det'],
    left: 35,
    top: 633,
    padding: 0,
    icon: 'rect',
    itemWidth: 30,
    itemHeight: 4,
    itemGap: 25,
    selectedMode: false,
    textStyle: { fontFamily: mono, fontSize: 10, color: '#000', padding: [0, 0, 0, 5] }
  },
  xAxis: [
    {
      gridIndex: 0,
      type: 'value',
      min: 0,
      max: 360,
      interval: 24,
      axisLine: { show: true, lineStyle: { color: '#000', width: 1 } },
      axisTick: { show: false },
      splitLine: { show: true, lineStyle: { color: '#c0c0c0', width: 1 } },
      axisLabel: {
        rotate: 90,
        margin: 3,
        fontFamily: mono,
        fontSize: 10,
        color: '#000',
        verticalAlign: 'top',
        formatter: v => dayLabels[Math.round(v / 24)]
      }
    },
    { gridIndex: 1, type: 'value', min: 0, max: 360, show: false }
  ],
  yAxis: [
    { gridIndex: 0, type: 'value', min: 0, max: 1, show: false },
    {
      gridIndex: 1,
      type: 'value',
      position: 'left',
      min: -45,
      max: 30,
      interval: 5,
      axisLine: { show: false },
      axisTick: { show: false },
      splitLine: { show: true, lineStyle: { color: '#c0c0c0', width: 1 } },
      axisLabel: { margin: 19, fontFamily: mono, fontSize: 10, color: '#000' }
    },
    {
      gridIndex: 1,
      type: 'value',
      position: 'right',
      min: 0,
      max: 75,
      interval: 5,
      axisLine: { show: false },
      axisTick: { show: false },
      splitLine: { show: false },
      axisLabel: { margin: 20, fontFamily: mono, fontSize: 10, color: '#000' }
    }
  ],
  graphic: graphics,
  series: series
});
</script>
</body>
</html>
